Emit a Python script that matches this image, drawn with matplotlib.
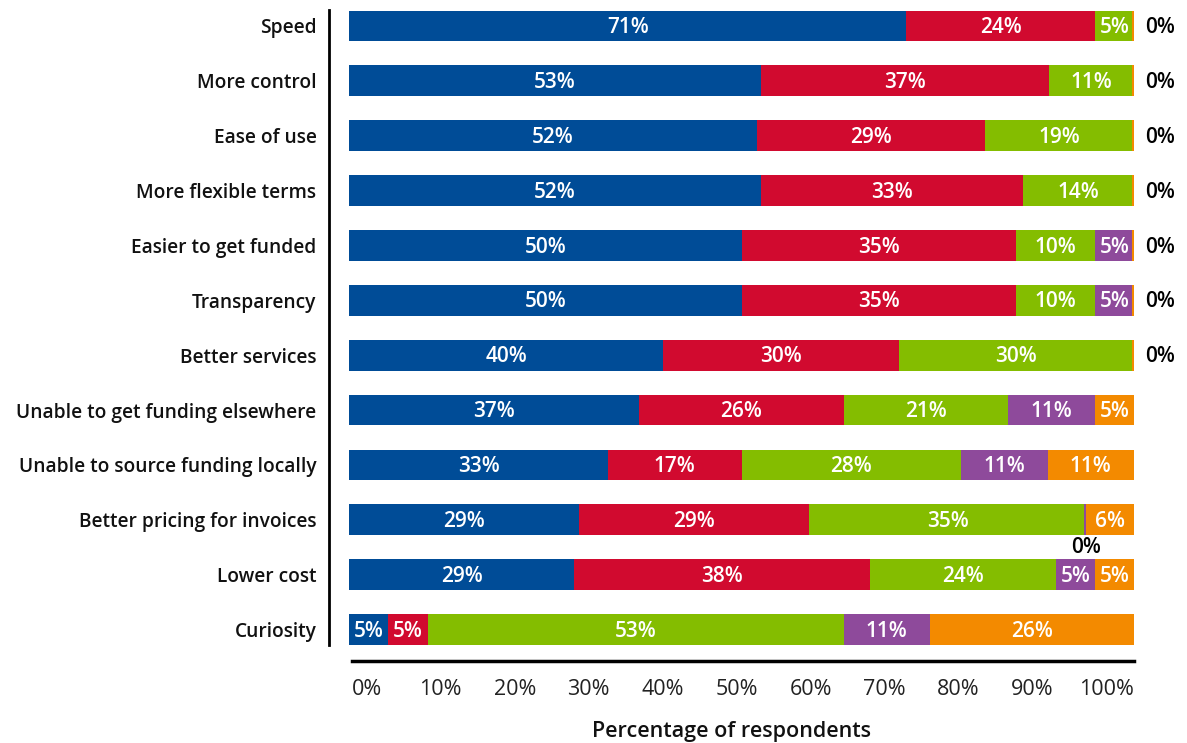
import numpy as np
import matplotlib.pyplot as plt

plt.rcParams["font.family"] = ["Open Sans", "DejaVu Sans"]

categories = ["Speed", "More control", "Ease of use", "More flexible terms",
              "Easier to get funded", "Transparency", "Better services",
              "Unable to get funding elsewhere", "Unable to source funding locally",
              "Better pricing for invoices", "Lower cost", "Curiosity"]

blue = [71, 53, 52, 52, 50, 50, 40, 37, 33, 29, 29, 5]
red = [24, 37, 29, 33, 35, 35, 30, 26, 17, 29, 38, 5]
green = [5, 11, 19, 14, 10, 10, 30, 21, 28, 35, 24, 53]
purple = [0, 0, 0, 0, 5, 5, 0, 11, 11, 0, 5, 11]
orange = [0, 0, 0, 0, 0, 0, 0, 5, 11, 6, 5, 26]

# which zero values get a "0%" label (the others are simply absent)
purple_zero_shown = [False] * 9 + [True, False, False]
orange_zero_shown = [True] * 7 + [False] * 5

series = [blue, red, green, purple, orange]
colors = ["#004C97", "#D10A2F", "#84BD00", "#8E4A9B", "#F38A00"]


def main():
    fig = plt.figure(figsize=(11.87, 7.43), dpi=100)
    ax = fig.add_axes([329 / 1187, 1 - 645 / 743, (1134 - 329) / 1187, 635 / 743])

    data = np.array(series, dtype=float)
    totals = data.sum(axis=0)
    pct = data / totals * 100
    y = np.arange(len(categories))

    left = np.zeros(len(categories))
    for k, (vals, col) in enumerate(zip(pct, colors)):
        for i in range(len(categories)):
            w = vals[i]
            raw = series[k][i]
            if w > 0:
                ax.barh(y[i], w, left=left[i], height=0.56, color=col, linewidth=0)
                ax.text(left[i] + w / 2, y[i] + 0.03, f"{raw}%", ha="center",
                        va="center", color="white", fontsize=15,
                        fontweight="semibold")
            else:
                ax.barh(y[i], 0.25, left=left[i] - 0.25, height=0.56, color=col,
                        linewidth=0)
                if k == 4 and orange_zero_shown[i]:
                    ax.text(101.4, y[i] + 0.03, "0%", ha="left", va="center",
                            color="black", fontsize=15, fontweight="semibold",
                            clip_on=False)
                if k == 3 and purple_zero_shown[i]:
                    ax.text(left[i], y[i] + 0.5, "0%", ha="center", va="center",
                            color="black", fontsize=15, fontweight="semibold")
        left += vals

    ax.set_xlim(-2.55, 100)
    ax.set_ylim(11.28, -0.29)
    ax.set_yticks(y)
    ax.set_yticklabels(categories, fontsize=13.8, color="#111111",
                       fontweight="semibold")
    ax.tick_params(axis="y", length=0, pad=9)
    ax.set_xticks([])
    for s in ["top", "right", "bottom"]:
        ax.spines[s].set_visible(False)
    ax.spines["left"].set_linewidth(2)

    # separate percentage axis below the bars
    ax2 = fig.add_axes([352 / 1187, 1 - 661 / 743, (1134 - 352) / 1187, 0.001])
    ax2.set_xlim(-2, 103.7)
    ax2.set_xticks(np.arange(0, 101, 10))
    ax2.set_xticklabels([f"{t}%" for t in range(0, 101, 10)], fontsize=15.5,
                        color="#222222")
    ax2.tick_params(axis="x", length=0, pad=13)
    ax2.set_yticks([])
    for s in ["top", "right", "left"]:
        ax2.spines[s].set_visible(False)
    ax2.spines["bottom"].set_linewidth(2.5)

    fig.text(731 / 1187, 1 - 731 / 743, "Percentage of respondents",
             ha="center", va="center", fontsize=15.5, fontweight="semibold",
             color="#111111")

    fig.savefig("out.png", dpi=100)


if __name__ == "__main__":
    main()
